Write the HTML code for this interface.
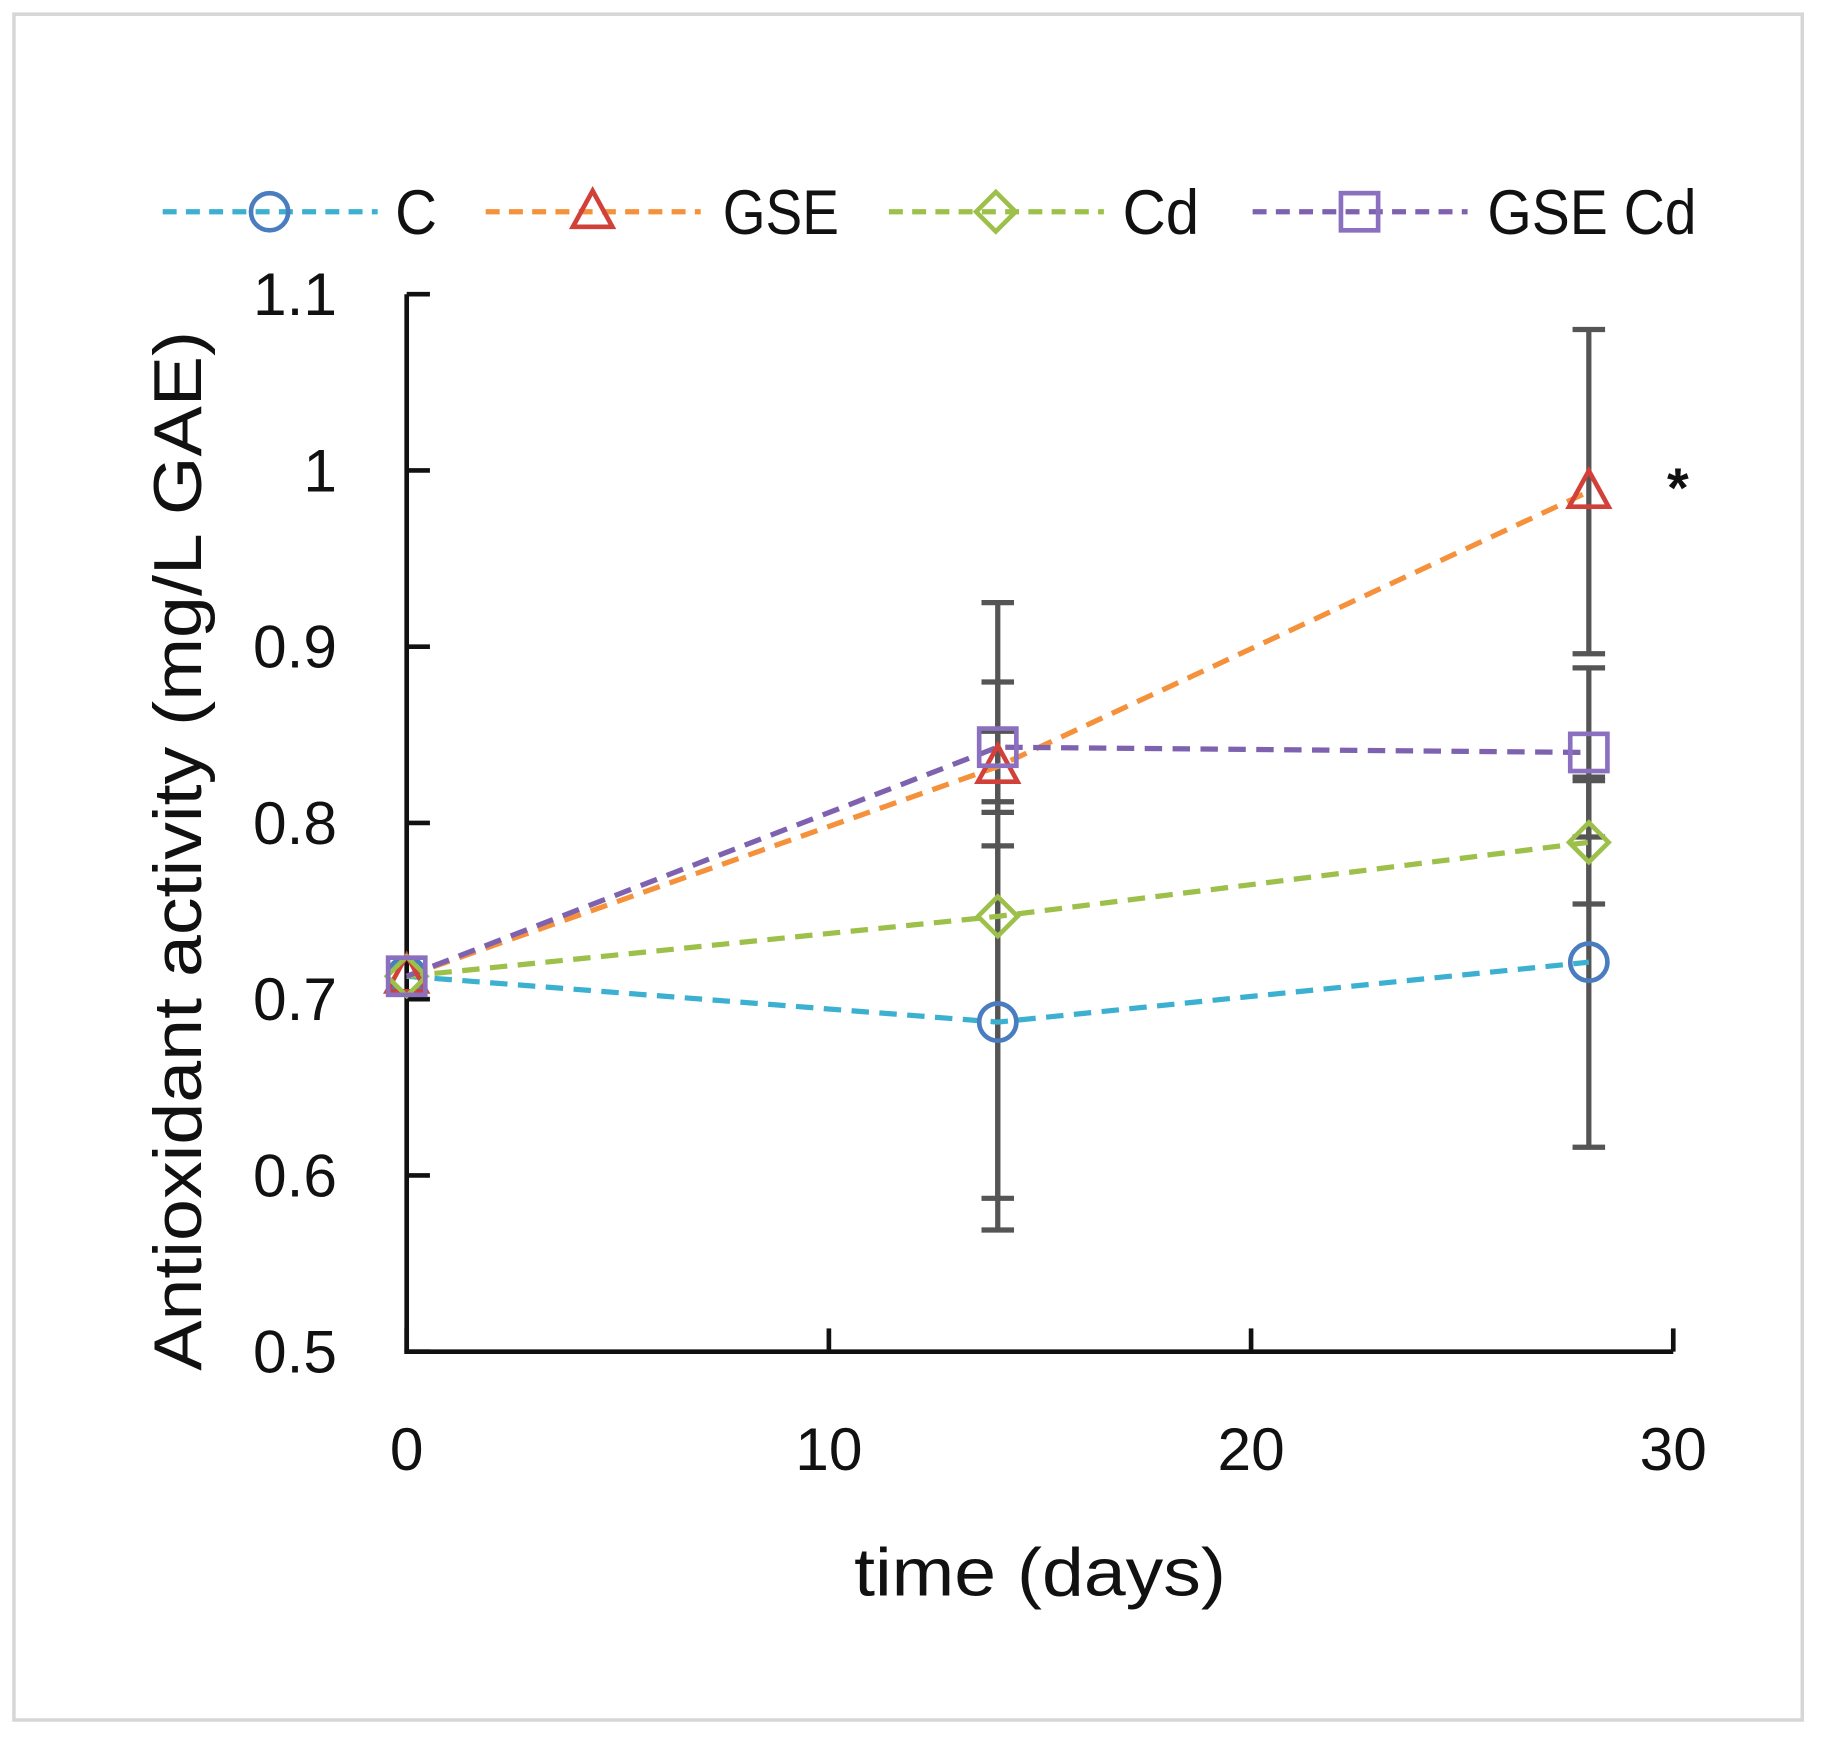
<!DOCTYPE html>
<html><head><meta charset="utf-8"><style>
html,body{margin:0;padding:0;background:#fff;}
svg{display:block;}
text{font-family:"Liberation Sans","DejaVu Sans",sans-serif;fill:#111;}
</style></head><body>
<svg id="chart" width="1822" height="1740" viewBox="0 0 1568 1497" xmlns="http://www.w3.org/2000/svg">
<rect x="12" y="12" width="1539" height="1468" fill="#fff" stroke="#d6d6d6" stroke-width="3"/>
<g id="axes"></g>
<g id="errs"></g>
<g id="lines"></g>
<g id="marks"></g>
<g id="legend"></g>
<text x="1444" y="436" font-size="48" font-weight="bold" text-anchor="middle">*</text>
<text x="895" y="1373" font-size="58" text-anchor="middle" textLength="320" lengthAdjust="spacingAndGlyphs">time (days)</text>
<text transform="translate(173,732) rotate(-90)" font-size="58" text-anchor="middle" textLength="895" lengthAdjust="spacingAndGlyphs">Antioxidant activity (mg/L GAE)</text>
</svg>
<script>
const days = [0, 14, 28];
const seriesNames = ["C", "GSE", "Cd", "GSE Cd"];
const valC = [0.713, 0.687, 0.721];
const valGSE = [0.713, 0.832, 0.988];
const valCd = [0.713, 0.747, 0.789];
const valGSECd = [0.713, 0.843, 0.840];
const errC = [0, 0.10, 0.105];
const errGSE = [0, 0.02, 0.092];
const errCd = [0, 0.178, 0.035];
const errGSECd = [0, 0.037, 0.048];
const xTicks = [0, 10, 20, 30];
const yTicks = [0.5, 0.6, 0.7, 0.8, 0.9, 1.0, 1.1];
const yTickLabels = ["0.5", "0.6", "0.7", "0.8", "0.9", "1", "1.1"];

const NS = "http://www.w3.org/2000/svg";
const X0 = 350, X1 = 1440, Y0 = 1163, Y1 = 253;
function xs(d){ return X0 + (d - 0) / 30 * (X1 - X0); }
function ys(v){ return Y0 - (v - 0.5) / 0.6 * (Y0 - Y1); }
function mk(tag, attrs, parent){
  const e = document.createElementNS(NS, tag);
  for (const k in attrs) e.setAttribute(k, attrs[k]);
  parent.appendChild(e); return e;
}
const axes = document.getElementById('axes');
let a = mk('line', {x1:X0, y1:Y1, x2:X0, y2:Y0+2, stroke:'#111', 'stroke-width':4}, axes);


a = mk('line', {x1:X0-2, y1:Y0, x2:X1, y2:Y0, stroke:'#111', 'stroke-width':4}, axes);


yTicks.forEach((v, i) => {
  const t = mk('line', {x1:X0, y1:ys(v), x2:X0+20, y2:ys(v), stroke:'#111', 'stroke-width':4}, axes);
  
  
  const l = mk('text', {x:X0-60, y:ys(v)+18, 'font-size':52, 'text-anchor':'end'}, axes);
  l.textContent = yTickLabels[i];
  
  
});
xTicks.forEach(d => {
  const t = mk('line', {x1:xs(d), y1:Y0, x2:xs(d), y2:Y0-20, stroke:'#111', 'stroke-width':4}, axes);
  
  
  const l = mk('text', {x:xs(d), y:Y0+102, 'font-size':52, 'text-anchor':'middle'}, axes);
  l.textContent = String(d);
  
  
});

const series = [
  {vals:valC, errs:errC, line:'#3bb0d0', mcol:'#4a7cc0', shape:'circle'},
  {vals:valGSE, errs:errGSE, line:'#f5913b', mcol:'#d2403a', shape:'triangle'},
  {vals:valCd, errs:errCd, line:'#9cc04a', mcol:'#9cc04a', shape:'diamond'},
  {vals:valGSECd, errs:errGSECd, line:'#7e62b0', mcol:'#8a70bf', shape:'square'}
];
function marker(shape, cx, cy, col, parent){
  let e;
  if (shape === 'circle') e = mk('circle', {cx:cx, cy:cy, r:16}, parent);
  else if (shape === 'triangle') e = mk('polygon', {points:`${cx},${cy-18} ${cx-17},${cy+13} ${cx+17},${cy+13}`}, parent);
  else if (shape === 'diamond') e = mk('polygon', {points:`${cx},${cy-17} ${cx+17},${cy} ${cx},${cy+17} ${cx-17},${cy}`}, parent);
  else e = mk('rect', {x:cx-16, y:cy-16, width:32, height:32}, parent);
  e.setAttribute('fill', 'none');
  e.setAttribute('stroke', col);
  e.setAttribute('stroke-width', 4);
  return e;
}
const errs = document.getElementById('errs'), lines = document.getElementById('lines'), marks = document.getElementById('marks');
series.forEach((s, si) => {
  s.vals.forEach((v, i) => {
    if (s.errs[i] <= 0) return;
    const g = mk('g', {stroke:'#555', 'stroke-width':4.5}, errs);
    
    
    const x = xs(days[i]);
    mk('line', {x1:x, y1:ys(v+s.errs[i]), x2:x, y2:ys(v-s.errs[i])}, g);
    mk('line', {x1:x-14, y1:ys(v+s.errs[i]), x2:x+14, y2:ys(v+s.errs[i])}, g);
    mk('line', {x1:x-14, y1:ys(v-s.errs[i]), x2:x+14, y2:ys(v-s.errs[i])}, g);
  });
  const pts = s.vals.map((v, i) => xs(days[i]) + ',' + ys(v)).join(' ');
  const pl = mk('polyline', {points:pts, fill:'none', stroke:s.line, 'stroke-width':4.5, 'stroke-dasharray':'15 9'}, lines);
  
  
  s.vals.forEach((v, i) => {
    const m = marker(s.shape, xs(days[i]), ys(v), s.mcol, marks);
    
    
  });
});
const legend = document.getElementById('legend');
const legX = [140, 418, 765, 1078], legTX = [340, 622, 966, 1280], legTW = [36, 100, 66, 180];
series.forEach((s, i) => {
  const g = mk('g', {}, legend);
  
  
  mk('line', {x1:legX[i], y1:182, x2:legX[i]+185, y2:182, stroke:s.line, 'stroke-width':4.5, 'stroke-dasharray':'12 8'}, g);
  marker(s.shape, legX[i]+92, 182, s.mcol, g);
  const t = mk('text', {x:legTX[i], y:201, 'font-size':54, textLength:legTW[i], lengthAdjust:'spacingAndGlyphs'}, g);
  t.textContent = seriesNames[i];
});
</script>
</body></html>
